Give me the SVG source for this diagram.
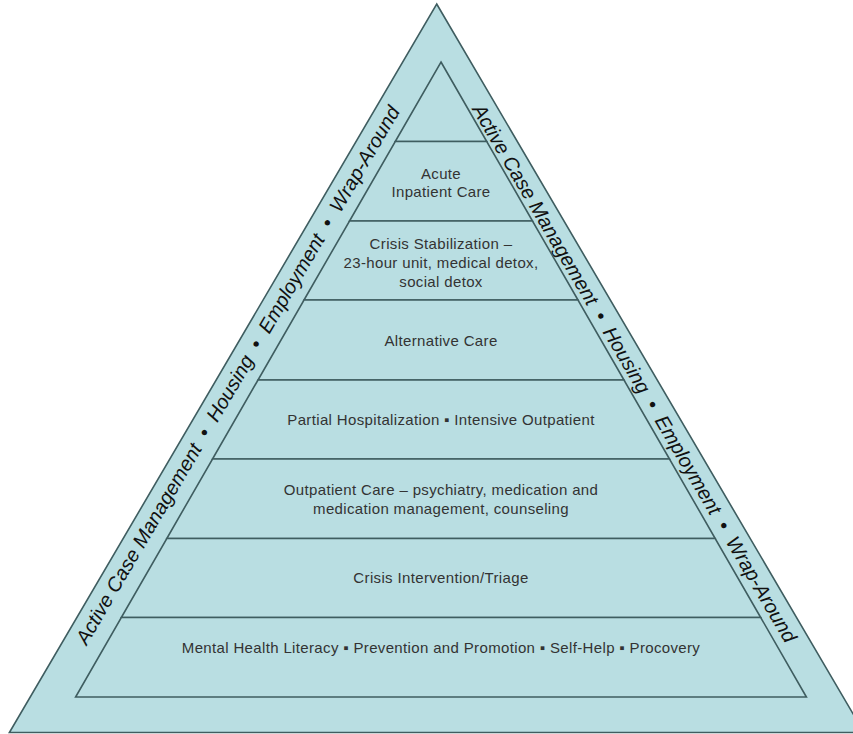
<svg xmlns="http://www.w3.org/2000/svg" width="853" height="734" viewBox="0 0 853 734">
  <style>
    .band { fill: #B9DEE2; stroke: #3f5d60; stroke-width: 1.6; stroke-linejoin: miter; }
    .lbl { font-family: "Liberation Sans", Arial, sans-serif; font-size: 15px; letter-spacing: 0.35px; fill: #333; text-anchor: middle; }
    .side { font-family: "Liberation Sans", Arial, sans-serif; font-size: 20px; font-style: italic; fill: #111; text-anchor: middle; }
  </style>
  <rect width="853" height="734" fill="#fff"/>
  <g id="outer-band">
    <polygon class="band" points="436.7,4 864,732.5 9.4,732.5"/>
    <text class="side" xml:space="preserve" transform="translate(243.6,378.6) rotate(-59.6)">Active Case Management  •  Housing  •  Employment  •  Wrap-Around</text>
    <text class="side" xml:space="preserve" transform="translate(628.6,376.6) rotate(59.6)">Active Case Management  •  Housing  •  Employment  •  Wrap-Around</text>
  </g>
  <g id="apex">
    <polygon class="band" points="441,62 486.75,141.5 395.25,141.5"/>
  </g>
  <g id="acute-inpatient">
    <polygon class="band" points="395.25,141.5 486.75,141.5 532.5,221 349.5,221"/>
    <text class="lbl" x="441" y="178.5">Acute</text>
    <text class="lbl" x="441" y="197">Inpatient Care</text>
  </g>
  <g id="crisis-stabilization">
    <polygon class="band" points="349.5,221 532.5,221 578,300 304,300"/>
    <text class="lbl" x="441" y="249">Crisis Stabilization –</text>
    <text class="lbl" x="441" y="268">23-hour unit, medical detox,</text>
    <text class="lbl" x="441" y="287">social detox</text>
  </g>
  <g id="alternative-care">
    <polygon class="band" points="304,300 578,300 624,380 258,380"/>
    <text class="lbl" x="441" y="346">Alternative Care</text>
  </g>
  <g id="partial-hospitalization">
    <polygon class="band" points="258,380 624,380 669.5,459 212.5,459"/>
    <text class="lbl" x="441" y="425">Partial Hospitalization ▪ Intensive Outpatient</text>
  </g>
  <g id="outpatient-care">
    <polygon class="band" points="212.5,459 669.5,459 715.2,538.5 166.8,538.5"/>
    <text class="lbl" x="441" y="494.5">Outpatient Care – psychiatry, medication and</text>
    <text class="lbl" x="441" y="513.5">medication management, counseling</text>
  </g>
  <g id="crisis-intervention">
    <polygon class="band" points="166.8,538.5 715.2,538.5 760.7,617.5 121.3,617.5"/>
    <text class="lbl" x="441" y="583">Crisis Intervention/Triage</text>
  </g>
  <g id="mental-health-literacy">
    <polygon class="band" points="121.3,617.5 760.7,617.5 806.4,697 75.6,697"/>
    <text class="lbl" x="441" y="653">Mental Health Literacy ▪ Prevention and Promotion ▪ Self-Help ▪ Procovery</text>
  </g>
</svg>
